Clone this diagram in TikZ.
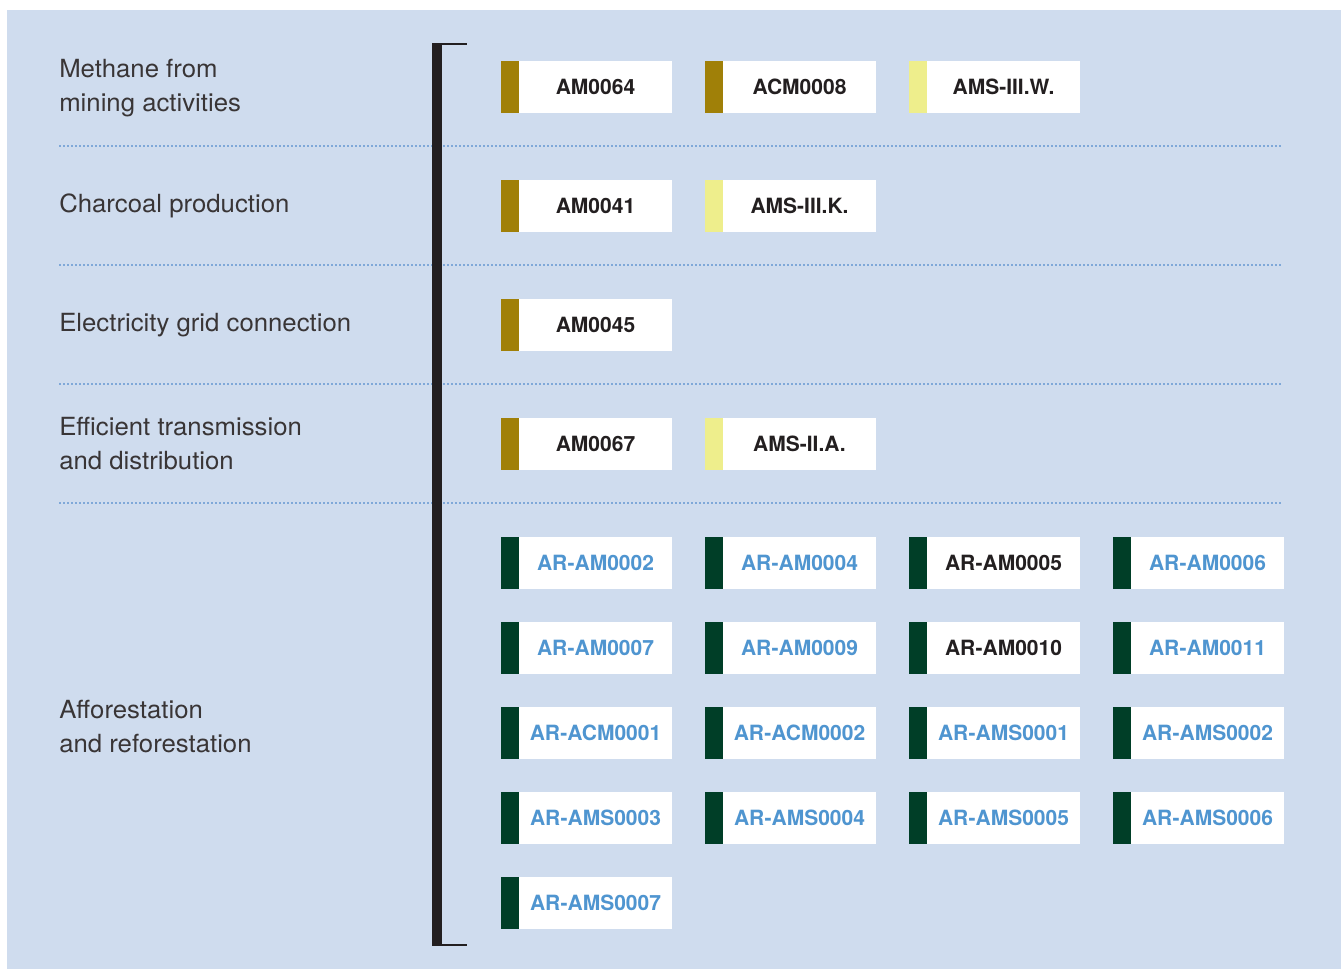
\documentclass[tikz,border=0pt]{standalone}
\usepackage{fontspec}
\setmainfont{TeX Gyre Heros}
\newfontfamily\sectorfont[FakeStretch=1.03]{TeX Gyre Heros}
\definecolor{bgblue}{HTML}{CFDCEE}
\definecolor{ochre}{HTML}{A08008}
\definecolor{paleyel}{HTML}{EEEE8C}
\definecolor{forest}{HTML}{003E27}
\definecolor{linkblue}{HTML}{4F95D0}
\definecolor{inkblack}{HTML}{231F20}
\definecolor{sepblue}{HTML}{7FA8D8}

\begin{document}
\begin{tikzpicture}[x=0.75pt, y=-0.75pt,
    sector/.style={anchor=west, align=left, inner sep=0pt, text=inkblack!90, font=\sectorfont\fontsize{18.75}{25.5}\selectfont},
    meth/.style={fill=white, minimum width=114.75pt, minimum height=39pt, inner sep=0pt, outer sep=0pt, text=inkblack, font=\bfseries\fontsize{15.75}{18}\selectfont},
    tagbar/.style={label={[fill=#1, minimum width=13.5pt, minimum height=39pt, inner sep=0pt, outer sep=0pt]west:{}}},
    am/.style={meth, tagbar=ochre},
    ams/.style={meth, tagbar=paleyel},
    arb/.style={meth, tagbar=forest},
    ar/.style={arb, text=linkblue},
    sep/.style={sepblue, line width=0.9pt, dash pattern=on 1.5pt off 1.5pt},
]
  \useasboundingbox (0,0) rectangle (1341,969);
  \fill[bgblue] (7,10) rectangle (1341,969);

  % separators between the sectors
  \draw[sep] (59,146) -- (1283,146);
  \draw[sep] (59,265) -- (1283,265);
  \draw[sep] (59,384) -- (1283,384);
  \draw[sep] (59,503) -- (1283,503);

  % bracket
  \fill[inkblack] (432,43) rectangle (442,946);
  \draw[inkblack, line width=1.5pt] (432,44.5) -- (467,44.5);
  \draw[inkblack, line width=1.5pt] (432,944.5) -- (467,944.5);

  % Left: sectors
  \node[sector] (methane) at (59,88) {Methane from\\mining activities};
  \node[sector] (charcoal) at (59,206) {Charcoal production};
  \node[sector] (grid) at (59,325) {Electricity grid connection};
  \node[sector] (transm) at (59,444) {Efficient transmission\\and distribution};
  \node[sector] (affor) at (59,727) {Afforestation\\and reforestation};

  % Right: methodologies
  \node[am] (am64) at (595.5,87) {AM0064};
  \node[am] (acm08) at (799.5,87) {ACM0008};
  \node[ams] (ams3w) at (1003.5,87) {AMS-III.W.};

  \node[am] (am41) at (595.5,206) {AM0041};
  \node[ams] (ams3k) at (799.5,206) {AMS-III.K.};

  \node[am] (am45) at (595.5,325) {AM0045};

  \node[am] (am67) at (595.5,444) {AM0067};
  \node[ams] (ams2a) at (799.5,444) {AMS-II.A.};

  % afforestation grid
  \node[ar] (aram02) at (595.5,563) {AR-AM0002};
  \node[ar] (aram04) at (799.5,563) {AR-AM0004};
  \node[arb] (aram05) at (1003.5,563) {AR-AM0005};
  \node[ar] (aram06) at (1207.5,563) {AR-AM0006};

  \node[ar] (aram07) at (595.5,648) {AR-AM0007};
  \node[ar] (aram09) at (799.5,648) {AR-AM0009};
  \node[arb] (aram10) at (1003.5,648) {AR-AM0010};
  \node[ar] (aram11) at (1207.5,648) {AR-AM0011};

  \node[ar] (aracm01) at (595.5,733) {AR-ACM0001};
  \node[ar] (aracm02) at (799.5,733) {AR-ACM0002};
  \node[ar] (arams01) at (1003.5,733) {AR-AMS0001};
  \node[ar] (arams02) at (1207.5,733) {AR-AMS0002};

  \node[ar] (arams03) at (595.5,818) {AR-AMS0003};
  \node[ar] (arams04) at (799.5,818) {AR-AMS0004};
  \node[ar] (arams05) at (1003.5,818) {AR-AMS0005};
  \node[ar] (arams06) at (1207.5,818) {AR-AMS0006};

  \node[ar] (arams07) at (595.5,903) {AR-AMS0007};
\end{tikzpicture}
\end{document}
